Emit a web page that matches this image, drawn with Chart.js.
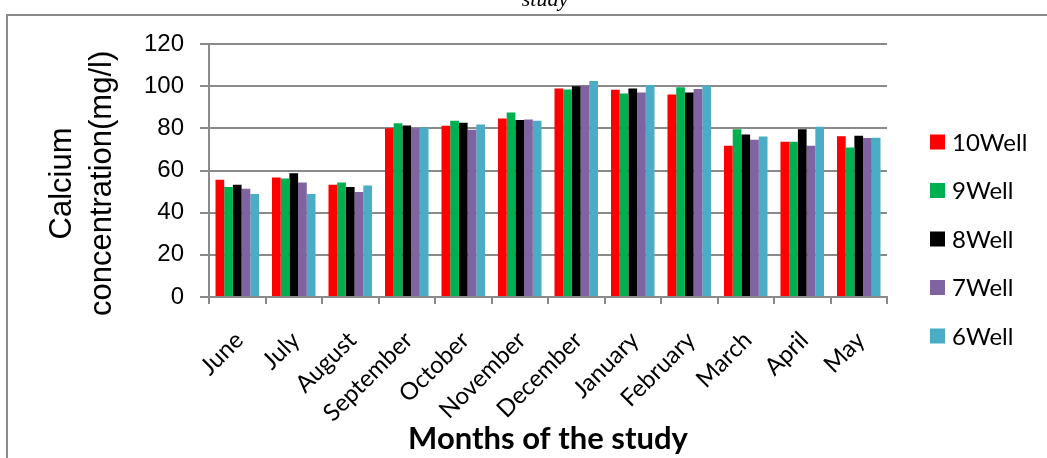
<!DOCTYPE html>
<html>
<head>
<meta charset="utf-8">
<script src="https://cdn.jsdelivr.net/npm/chart.js@4"></script>
<style>
  html, body { margin: 0; padding: 0; background: #ffffff; }
  canvas { display: block; }
</style>
</head>
<body>
<canvas id="chart" width="1047" height="458"></canvas>
<script>
// Monthly calcium concentration (mg/l) measured in five wells
const months = ['June', 'July', 'August', 'September', 'October', 'November',
                'December', 'January', 'February', 'March', 'April', 'May'];

const well10 = [55.6, 56.7, 53.3, 80.0, 81.2, 84.7, 98.9, 98.3, 96.1, 71.7, 73.6, 76.3];
const well9  = [52.2, 56.2, 54.3, 82.4, 83.6, 87.5, 98.4, 96.5, 99.5, 79.6, 73.6, 70.9];
const well8  = [53.3, 58.7, 52.2, 81.3, 82.6, 84.0, 100.0, 98.9, 97.0, 77.1, 79.6, 76.5];
const well7  = [51.3, 54.3, 49.8, 80.0, 79.3, 84.2, 100.3, 97.0, 98.6, 74.6, 71.7, 75.4];
const well6  = [48.9, 48.9, 52.9, 80.4, 81.8, 83.6, 102.4, 100.5, 100.2, 76.1, 80.7, 75.5];

const seriesNames = ['10Well', '9Well', '8Well', '7Well', '6Well'];
const seriesColors = ['#FF0000', '#00B050', '#000000', '#8064A2', '#4BACC6'];
const seriesValues = [well10, well9, well8, well7, well6];

const yTicks = [0, 20, 40, 60, 80, 100, 120];

const GRID = '#8a8a8a';

// Frame around the figure plus the clipped caption line above it
const framePlugin = {
  id: 'frame',
  beforeDraw(chart) {
    const ctx = chart.ctx;
    ctx.save();
    ctx.fillStyle = '#ffffff';
    ctx.fillRect(0, 0, chart.width, chart.height);
    ctx.strokeStyle = GRID;
    ctx.lineWidth = 2;
    ctx.beginPath();
    ctx.moveTo(7, chart.height);
    ctx.lineTo(7, 15);
    ctx.lineTo(chart.width, 15);
    ctx.stroke();
    ctx.fillStyle = '#000000';
    ctx.font = 'italic 22px "Liberation Serif"';
    ctx.textAlign = 'center';
    ctx.textBaseline = 'alphabetic';
    ctx.fillText('study', 545, 6);
    ctx.restore();
  }
};

// Legend column on the right, built from the datasets
const sideLegend = {
  id: 'sideLegend',
  afterDraw(chart) {
    const ctx = chart.ctx;
    ctx.save();
    ctx.font = '24px Lato';
    ctx.textBaseline = 'middle';
    ctx.textAlign = 'left';
    chart.data.datasets.forEach((ds, i) => {
      const cy = 142 + i * 48.5;
      ctx.fillStyle = ds.backgroundColor;
      ctx.fillRect(930, cy - 7.5, 15, 15);
      ctx.fillStyle = '#000000';
      ctx.fillText(ds.label, 952, cy + 1);
    });
    ctx.restore();
  }
};

new Chart(document.getElementById('chart'), {
  type: 'bar',
  data: {
    labels: months,
    datasets: seriesNames.map((name, i) => ({
      label: name,
      data: seriesValues[i],
      backgroundColor: seriesColors[i],
      borderWidth: 0,
      categoryPercentage: 0.77,
      barPercentage: 1.0
    }))
  },
  options: {
    responsive: false,
    animation: false,
    layout: { padding: { top: 44, right: 160, bottom: 0, left: 0 } },
    plugins: {
      legend: { display: false },
      tooltip: { enabled: false },
      title: { display: false }
    },
    scales: {
      x: {
        grid: { drawOnChartArea: false, drawTicks: true, tickLength: 7, color: GRID, lineWidth: 2, offset: true },
        border: { color: GRID, width: 2 },
        ticks: {
          color: '#000000',
          font: { family: 'Lato', size: 24 },
          minRotation: 45,
          maxRotation: 45,
          autoSkip: false,
          padding: 22,
          labelOffset: 2
        },
        title: {
          display: true,
          text: 'Months of the study',
          color: '#000000',
          font: { family: 'Lato', weight: 'bold', size: 31 },
          padding: { top: 0, bottom: 0 }
        },
        afterFit(scale) { scale.height = 161; }
      },
      y: {
        min: 0,
        max: 120,
        afterBuildTicks(scale) { scale.ticks = yTicks.map(v => ({ value: v })); },
        grid: { color: GRID, lineWidth: 2, tickLength: 9, drawTicks: true },
        border: { color: GRID, width: 2 },
        ticks: {
          color: '#000000',
          font: { family: 'Liberation Sans', size: 24 },
          padding: 16
        },
        title: {
          display: true,
          text: ['Calcium   ', 'concentration(mg/l)   '],
          color: '#000000',
          font: { family: 'Liberation Sans', size: 31, lineHeight: 1.32 },
          padding: { top: 41.5, bottom: 0 }
        },
        afterFit(scale) { scale.width = 209; }
      }
    }
  },
  plugins: [framePlugin, sideLegend]
});
</script>
</body>
</html>
